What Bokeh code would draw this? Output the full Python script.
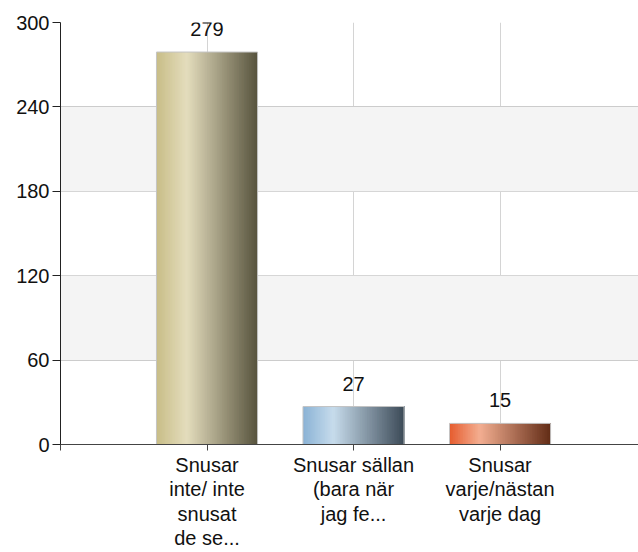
from bokeh.plotting import figure
from bokeh.models import (ColumnDataSource, FixedTicker, LabelSet, BoxAnnotation,
                          Range1d)
from bokeh.core.properties import value
from bokeh.embed import file_html
from bokeh.resources import INLINE

# ---- data ----
categories = ["Snusar\ninte/ inte\nsnusat\nde se...",
              "Snusar sällan\n(bara när\njag fe...",
              "Snusar\nvarje/nästan\nvarje dag"]
values = [279, 27, 15]
y_ticks = [0, 60, 120, 180, 240, 300]

# ---- style ----
FONT = "Liberation Sans"
gradients = [
    [(0.0, "#c8bd87"), (0.3, "#e4ddbd"), (1.0, "#57533d")],
    [(0.0, "#8ab2d5"), (0.3, "#c7dcec"), (1.0, "#3c4a57")],
    [(0.0, "#e65c2e"), (0.3, "#f3ae91"), (1.0, "#622c16")],
]
BAR_W = 0.69
N_STRIPS = 60


def hex2rgb(h):
    h = h.lstrip("#")
    return tuple(int(h[i:i + 2], 16) for i in (0, 2, 4))


def interp(stops, t):
    for (p0, c0), (p1, c1) in zip(stops[:-1], stops[1:]):
        if p0 <= t <= p1:
            f = (t - p0) / (p1 - p0) if p1 > p0 else 0
            a, b = hex2rgb(c0), hex2rgb(c1)
            return "#%02x%02x%02x" % tuple(int(round(a[k] + (b[k] - a[k]) * f)) for k in range(3))
    return stops[-1][1]


xpos = [i + 1 for i in range(len(categories))]

p = figure(width=638, height=552, output_backend="svg", toolbar_location=None,
           x_range=Range1d(0, 3.945), y_range=Range1d(0, 300),
           min_border_left=60, min_border_top=22, min_border_bottom=107,
           min_border_right=0)
p.outline_line_color = None
p.background_fill_color = "white"
p.border_fill_color = "white"

# alternating bands
for lo, hi in zip(y_ticks[:-1], y_ticks[1:]):
    if (lo // 60) % 2 == 1:
        p.add_layout(BoxAnnotation(bottom=lo, top=hi, fill_color="#f4f4f4",
                                   fill_alpha=1, line_color=None, level="underlay"))

# gradient bars built from overlapping slices (each runs to the bar's right edge)
ql, qr, qt, qc = [], [], [], []
for xc, v, stops in zip(xpos, values, gradients):
    for i in range(N_STRIPS):
        t0 = i / N_STRIPS
        ql.append(xc - BAR_W / 2 + t0 * BAR_W)
        qr.append(xc + BAR_W / 2)
        qt.append(v)
        qc.append(interp(stops, (i + 0.5) / N_STRIPS))
p.quad(left=ql, right=qr, top=qt, bottom=0, fill_color=qc, line_color=None)
p.vbar(x=xpos, width=BAR_W, top=values, bottom=0, fill_alpha=0,
       line_color="#c4c4c4", line_width=1)

# value labels
src = ColumnDataSource(dict(x=xpos, y=values, t=[str(v) for v in values]))
p.add_layout(LabelSet(x="x", y="y", text="t", source=src, text_align="center",
                      text_baseline="alphabetic", y_offset=16,
                      text_font=value(FONT), text_font_size=value("20px"),
                      text_color="#111111"))

# axes
p.yaxis.ticker = FixedTicker(ticks=y_ticks)
p.xaxis.ticker = FixedTicker(ticks=[0] + xpos)
p.xaxis.major_label_overrides = {0: "", **{x: c for x, c in zip(xpos, categories)}}
for ax in (p.xaxis, p.yaxis):
    ax.minor_tick_line_color = None
    ax.major_label_text_font = FONT
    ax.major_label_text_font_size = "20px"
    ax.major_label_text_color = "#111111"
    ax.major_tick_in = 0
p.yaxis.axis_line_color = "#222222"
p.yaxis.major_tick_line_color = "#222222"
p.yaxis.major_tick_out = 8
p.yaxis.major_label_standoff = 3
p.xaxis.axis_line_color = "#444444"
p.xaxis.major_tick_line_color = "#444444"
p.xaxis.major_tick_out = 6
p.xaxis.major_label_standoff = 3
p.xaxis.major_label_text_line_height = 1.12

p.ygrid.ticker = FixedTicker(ticks=y_ticks[1:])
p.ygrid.grid_line_color = "#cccccc"
p.xgrid.ticker = FixedTicker(ticks=xpos)
p.xgrid.grid_line_color = "#d4d4d4"

open("out.html", "w").write(file_html(p, INLINE))
